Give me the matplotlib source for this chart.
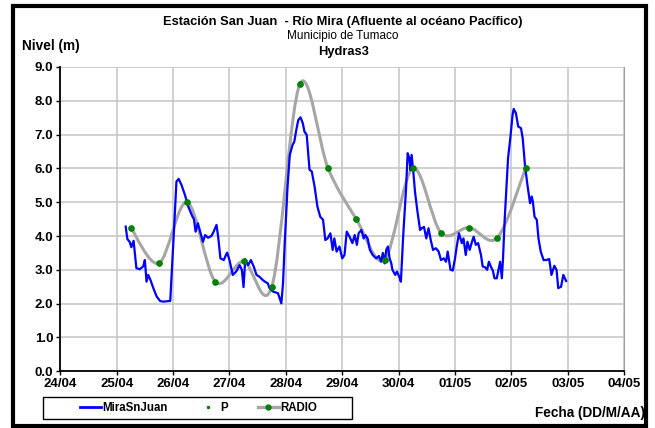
import numpy as np
import matplotlib
matplotlib.use("Agg")
import matplotlib.pyplot as plt
from matplotlib.path import Path
from matplotlib.patches import PathPatch, Rectangle
from matplotlib.lines import Line2D

plt.rcParams['font.family'] = ['Liberation Sans', 'DejaVu Sans']

# days counted from 24/04 00:00
tick_labels = ['24/04', '25/04', '26/04', '27/04', '28/04', '29/04',
               '30/04', '01/05', '02/05', '03/05', '04/05']

mira_t = [1.16, 1.19, 1.23, 1.26, 1.30, 1.35, 1.41, 1.47, 1.50, 1.53, 1.56, 1.60,
          1.65, 1.71, 1.77, 1.82, 1.95, 1.98, 2.02, 2.06, 2.10, 2.15, 2.21, 2.27,
          2.34, 2.37, 2.40, 2.44, 2.49, 2.53, 2.57, 2.62, 2.68, 2.72, 2.77, 2.80,
          2.84, 2.90, 2.94, 2.96, 3.00, 3.06, 3.12, 3.18, 3.22, 3.25, 3.28, 3.33,
          3.38, 3.43, 3.48, 3.53, 3.59, 3.63, 3.68, 3.71, 3.77, 3.86, 3.92, 3.95,
          3.98, 4.03, 4.07, 4.12, 4.15, 4.18, 4.22, 4.26, 4.30, 4.33, 4.37, 4.42,
          4.46, 4.51, 4.56, 4.61, 4.66, 4.70, 4.74, 4.79, 4.83, 4.86, 4.90, 4.95,
          5.00, 5.04, 5.08, 5.13, 5.18, 5.22, 5.26, 5.29, 5.34, 5.38, 5.41, 5.45,
          5.49, 5.54, 5.60, 5.65, 5.69, 5.72, 5.75, 5.78, 5.81, 5.84, 5.87, 5.89,
          5.94, 5.97, 6.01, 6.04, 6.08, 6.13, 6.16, 6.19, 6.21, 6.23, 6.26, 6.29,
          6.33, 6.38, 6.41, 6.45, 6.49, 6.53, 6.57, 6.61, 6.66, 6.71, 6.75, 6.80,
          6.84, 6.87, 6.92, 6.96, 7.00, 7.03, 7.07, 7.12, 7.15, 7.19, 7.22, 7.26,
          7.30, 7.33, 7.37, 7.41, 7.46, 7.49, 7.53, 7.57, 7.60, 7.64, 7.67, 7.70,
          7.74, 7.77, 7.80, 7.83, 7.85, 7.88, 7.92, 7.94, 7.98, 8.02, 8.04, 8.08,
          8.12, 8.17, 8.20, 8.24, 8.28, 8.33, 8.36, 8.38, 8.41, 8.45, 8.48, 8.52,
          8.57, 8.62, 8.67, 8.71, 8.76, 8.80, 8.83, 8.88, 8.92, 8.97]
mira_v = [4.28, 3.91, 3.83, 3.67, 3.86, 3.05, 3.02, 3.10, 3.29, 2.65, 2.85, 2.70,
          2.46, 2.21, 2.08, 2.06, 2.08, 3.00, 4.28, 5.61, 5.69, 5.51, 5.22, 4.87,
          4.59, 4.50, 4.13, 4.38, 4.08, 3.83, 4.03, 3.95, 4.00, 4.13, 4.33, 3.98,
          3.34, 3.29, 3.45, 3.51, 3.29, 2.85, 2.95, 3.14, 3.00, 2.49, 3.31, 3.14,
          3.29, 3.10, 2.85, 2.80, 2.70, 2.65, 2.60, 2.46, 2.36, 2.31, 2.01, 2.60,
          3.79, 5.46, 6.40, 6.70, 6.79, 7.09, 7.43, 7.51, 7.34, 7.09, 6.99, 5.96,
          5.91, 5.46, 4.87, 4.57, 4.48, 3.88, 3.93, 4.08, 3.59, 3.93, 3.54, 3.69,
          3.34, 3.44, 4.13, 3.98, 3.79, 4.03, 3.74, 4.08, 4.18, 3.93, 4.03, 3.93,
          3.59, 3.44, 3.34, 3.41, 3.24, 3.50, 3.19, 3.59, 3.69, 3.34, 3.19, 3.00,
          2.85, 2.95, 2.80, 2.65, 3.98, 5.36, 6.45, 6.30, 5.95, 6.40, 5.91, 5.31,
          4.77, 4.18, 4.23, 4.27, 3.93, 4.23, 3.88, 3.59, 3.64, 3.54, 3.29, 3.34,
          3.24, 3.54, 3.00, 2.98, 3.34, 3.69, 4.08, 3.79, 3.93, 3.44, 3.83, 3.59,
          3.83, 3.98, 3.74, 3.79, 3.44, 3.10, 3.08, 3.00, 3.24, 3.08, 2.98, 2.75,
          2.75, 3.00, 3.24, 2.75, 3.29, 4.48, 5.66, 6.30, 6.89, 7.58, 7.76, 7.63,
          7.24, 7.19, 6.89, 6.10, 5.56, 4.97, 5.17, 5.02, 4.57, 4.48, 3.93, 3.54,
          3.29, 3.29, 3.32, 2.85, 3.12, 3.00, 2.46, 2.50, 2.85, 2.67]

radio_t = [1.25, 1.75, 2.25, 2.75, 3.25, 3.75, 4.25, 4.75, 5.25, 5.75,
           6.25, 6.75, 7.25, 7.75, 8.25]
radio_v = [4.25, 3.20, 5.00, 2.65, 3.25, 2.50, 8.50, 6.00, 4.50, 3.30,
           6.00, 4.10, 4.25, 3.95, 6.00]

fig = plt.figure(figsize=(6.55, 4.28), dpi=100)
ax = fig.add_axes([0.092, 0.1325, 0.861, 0.711])

# smoothed line like the spreadsheet one (bezier through the points)
pts = np.column_stack([radio_t, radio_v])
n = len(pts)
verts = [pts[0]]
codes = [Path.MOVETO]
for i in range(n - 1):
    p0 = pts[i - 1] if i > 0 else pts[i]
    p1 = pts[i]
    p2 = pts[i + 1]
    p3 = pts[i + 2] if i + 2 < n else pts[i + 1]
    verts += [p1 + (p2 - p0) / 6, p2 - (p3 - p1) / 6, p2]
    codes += [Path.CURVE4] * 3
ax.add_patch(PathPatch(Path(verts, codes), facecolor='none',
                       edgecolor='#a6a6a6', lw=2.2, zorder=3))

ax.plot(mira_t, mira_v, color='#0000ff', lw=1.6, zorder=4)
ax.plot(radio_t, radio_v, ls='none', marker='o', ms=3.8,
        color='#008000', mec='#008000', zorder=5)

ax.set_xlim(0, 10)
ax.set_ylim(0, 9)
ax.set_xticks(range(11))
ax.set_xticklabels(tick_labels)
ax.set_yticks(np.arange(0, 9.5, 1.0))
ax.set_yticklabels(['%.1f' % v for v in np.arange(0, 9.5, 1.0)])
for lab in ax.get_xticklabels() + ax.get_yticklabels():
    lab.set_fontweight('bold')
    lab.set_fontsize(9.5)
ax.tick_params(length=3, width=1, color='black', pad=2)
ax.grid(True, color='#c8c8c8', lw=1.2)
ax.set_axisbelow(True)
ax.spines['top'].set_visible(False)
ax.spines['right'].set_color('#a0a0a0')
ax.spines['left'].set_linewidth(1.3)
ax.spines['bottom'].set_linewidth(1.3)

fig.text(0.524, 0.948, 'Estación San Juan  - Río Mira (Afluente al océano Pacífico)',
         ha='center', va='center', fontsize=9.3, fontweight='bold')
fig.text(0.524, 0.915, 'Municipio de Tumaco', ha='center', va='center', fontsize=8.5)
fig.text(0.524, 0.878, 'Hydras3', ha='center', va='center', fontsize=9.3,
         fontweight='bold')
fig.text(0.034, 0.893, 'Nivel (m)', ha='left', va='center', fontsize=9.8,
         fontweight='bold')
fig.text(0.984, 0.035, 'Fecha (DD/M/AA)', ha='right', va='center', fontsize=9.8,
         fontweight='bold')

handles = [Line2D([], [], color='#0000ff', lw=2),
           Line2D([], [], ls='none', marker='.', ms=3, color='#008000'),
           Line2D([], [], color='#a6a6a6', lw=2.4, marker='o', ms=3.5,
                  mfc='#008000', mec='#008000')]
leg = fig.legend(handles, ['MiraSnJuan', 'P', 'RADIO'], ncol=3,
                 loc='center left', bbox_to_anchor=(0.122, 0.0467),
                 frameon=False, prop={'weight': 'bold', 'size': 8.3},
                 handlelength=1.8, handletextpad=0.15, columnspacing=2.6,
                 borderpad=0, borderaxespad=0)
fig.patches.append(Rectangle((0.0656, 0.021), 0.4718, 0.0514,
                             transform=fig.transFigure, fill=False,
                             edgecolor='black', lw=1))

fig.patches.append(Rectangle((0.02, 0.005), 0.966, 0.982, transform=fig.transFigure,
                             fill=False, edgecolor='black', lw=3))

fig.savefig('out.png', dpi=100)
